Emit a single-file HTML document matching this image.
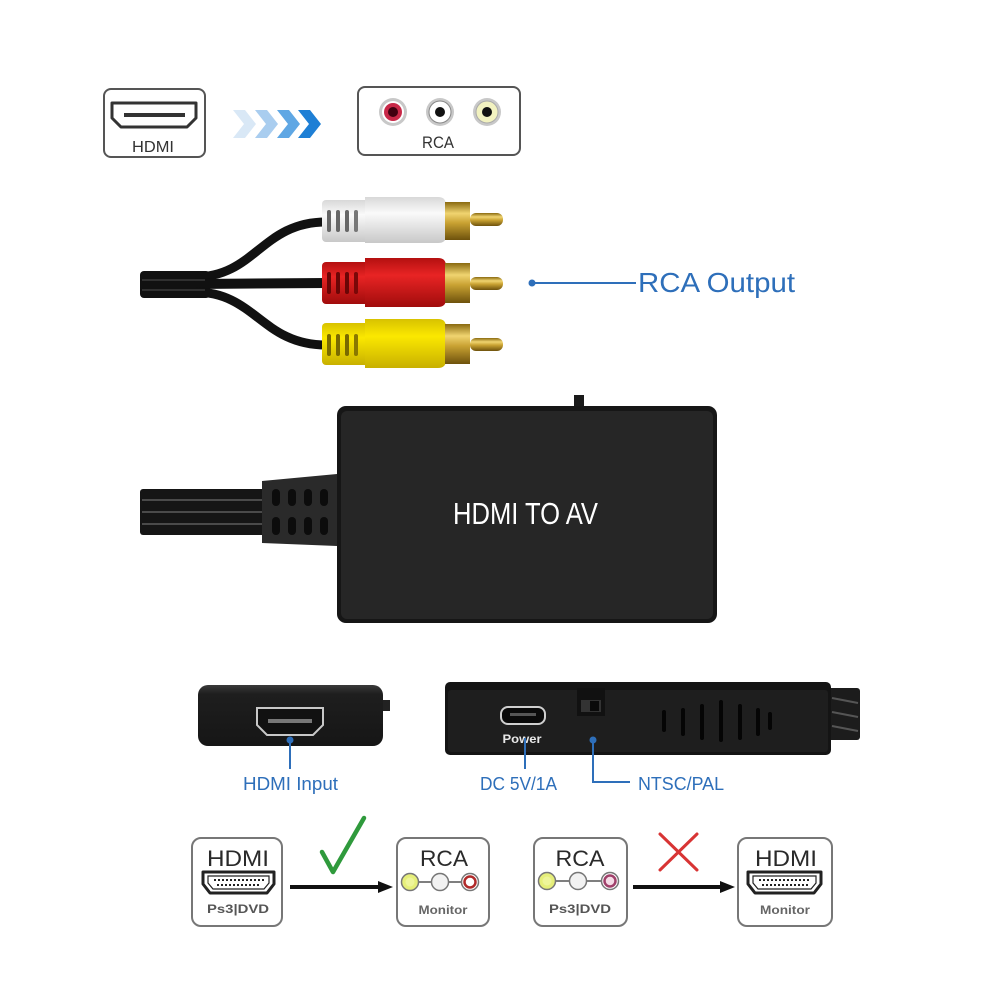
<!DOCTYPE html>
<html><head><meta charset="utf-8">
<style>
html,body{margin:0;padding:0;background:#fff;}
svg{display:block;}
text{font-family:"Liberation Sans",Arial,sans-serif;}
</style></head>
<body>
<svg width="1000" height="1000" viewBox="0 0 1000 1000" xmlns="http://www.w3.org/2000/svg">
<defs>
  <linearGradient id="gold" x1="0" y1="0" x2="0" y2="1">
    <stop offset="0" stop-color="#8a6a10"/>
    <stop offset="0.3" stop-color="#f0d470"/>
    <stop offset="0.55" stop-color="#c9a232"/>
    <stop offset="1" stop-color="#6e520c"/>
  </linearGradient>
  <linearGradient id="whiteP" x1="0" y1="0" x2="0" y2="1">
    <stop offset="0" stop-color="#d8d8d8"/>
    <stop offset="0.35" stop-color="#fafafa"/>
    <stop offset="1" stop-color="#c8c8c8"/>
  </linearGradient>
  <linearGradient id="redP" x1="0" y1="0" x2="0" y2="1">
    <stop offset="0" stop-color="#b41010"/>
    <stop offset="0.35" stop-color="#e82424"/>
    <stop offset="1" stop-color="#a00c0c"/>
  </linearGradient>
  <linearGradient id="yelP" x1="0" y1="0" x2="0" y2="1">
    <stop offset="0" stop-color="#d8c200"/>
    <stop offset="0.35" stop-color="#fbe800"/>
    <stop offset="1" stop-color="#c8b000"/>
  </linearGradient>
  <linearGradient id="devTop" x1="0" y1="0" x2="0" y2="1">
    <stop offset="0" stop-color="#3a3a3a"/>
    <stop offset="0.15" stop-color="#1e1e1e"/>
    <stop offset="1" stop-color="#161616"/>
  </linearGradient>
</defs>

<!-- ===== Top: HDMI box ===== -->
<rect x="104" y="89" width="101" height="68" rx="7" fill="#fff" stroke="#555" stroke-width="2"/>
<path d="M112 103 H196 V118 L187 127 H121 L112 118 Z" fill="#fff" stroke="#333" stroke-width="3" stroke-linejoin="round"/>
<rect x="124" y="113" width="61" height="4" fill="#333"/>
<text x="153" y="152" font-size="16" fill="#333" text-anchor="middle" textLength="42" lengthAdjust="spacingAndGlyphs">HDMI</text>

<!-- chevrons -->
<path d="M233 110 L245 110 L256 124 L245 138 L233 138 L244 124 Z" fill="#d9e8f6"/>
<path d="M255 110 L267 110 L278 124 L267 138 L255 138 L266 124 Z" fill="#a9cdef"/>
<path d="M277 110 L289 110 L300 124 L289 138 L277 138 L288 124 Z" fill="#5fa7e4"/>
<path d="M298 110 L310 110 L321 124 L310 138 L298 138 L309 124 Z" fill="#1e7fd5"/>

<!-- RCA box -->
<rect x="358" y="87" width="162" height="68" rx="7" fill="#fff" stroke="#555" stroke-width="2"/>
<circle cx="393" cy="112" r="14" fill="#c8c8c8"/>
<circle cx="393" cy="112" r="11" fill="#fff"/>
<circle cx="393" cy="112" r="9" fill="#c82848"/>
<circle cx="393" cy="112" r="5" fill="#400010"/>
<circle cx="440" cy="112" r="14" fill="#c8c8c8"/>
<circle cx="440" cy="112" r="11" fill="#fff" stroke="#888" stroke-width="1"/>
<circle cx="440" cy="112" r="5" fill="#111"/>
<circle cx="487" cy="112" r="14" fill="#c8c8c8"/>
<circle cx="487" cy="112" r="11" fill="#f2f2c0" stroke="#aaa" stroke-width="1"/>
<circle cx="487" cy="112" r="5" fill="#111"/>
<text x="438" y="148" font-size="17" fill="#333" text-anchor="middle" textLength="32" lengthAdjust="spacingAndGlyphs">RCA</text>

<!-- ===== RCA cables ===== -->
<rect x="140" y="271" width="70" height="27" rx="4" fill="#111"/>
<path d="M195 277 C 255 277, 262 222, 326 222" stroke="#111" stroke-width="9" fill="none"/>
<path d="M195 284 L326 283" stroke="#111" stroke-width="10" fill="none"/>
<path d="M195 292 C 255 292, 262 345, 326 345" stroke="#111" stroke-width="9" fill="none"/>
<line x1="142" y1="280" x2="205" y2="280" stroke="#3a3a3a" stroke-width="1.5"/>
<line x1="142" y1="290" x2="205" y2="290" stroke="#3a3a3a" stroke-width="1.5"/>

<!-- white plug -->
<g>
  <rect x="322" y="200" width="50" height="42" rx="4" fill="url(#whiteP)"/>
  <path d="M365 197 H438 Q446 197 446 205 V236 Q446 243 438 243 H365 Z" fill="url(#whiteP)"/>
  <rect x="327" y="210" width="4" height="22" rx="2" fill="#666"/>
  <rect x="336" y="210" width="4" height="22" rx="2" fill="#666"/>
  <rect x="345" y="210" width="4" height="22" rx="2" fill="#666"/>
  <rect x="354" y="210" width="4" height="22" rx="2" fill="#777"/>
  <rect x="445" y="202" width="25" height="38" fill="url(#gold)"/>
  <rect x="470" y="213" width="33" height="13" rx="6" fill="url(#gold)"/>
</g>
<!-- red plug -->
<g>
  <rect x="322" y="262" width="50" height="42" rx="4" fill="url(#redP)"/>
  <path d="M365 258 H438 Q446 258 446 266 V299 Q446 307 438 307 H365 Z" fill="url(#redP)"/>
  <rect x="327" y="272" width="4" height="22" rx="2" fill="#6a0606"/>
  <rect x="336" y="272" width="4" height="22" rx="2" fill="#6a0606"/>
  <rect x="345" y="272" width="4" height="22" rx="2" fill="#6a0606"/>
  <rect x="354" y="272" width="4" height="22" rx="2" fill="#7a0808"/>
  <rect x="445" y="263" width="25" height="40" fill="url(#gold)"/>
  <rect x="470" y="277" width="33" height="13" rx="6" fill="url(#gold)"/>
</g>
<!-- yellow plug -->
<g>
  <rect x="322" y="323" width="50" height="42" rx="4" fill="url(#yelP)"/>
  <path d="M365 319 H438 Q446 319 446 327 V360 Q446 368 438 368 H365 Z" fill="url(#yelP)"/>
  <rect x="327" y="334" width="4" height="22" rx="2" fill="#7a6a00"/>
  <rect x="336" y="334" width="4" height="22" rx="2" fill="#7a6a00"/>
  <rect x="345" y="334" width="4" height="22" rx="2" fill="#7a6a00"/>
  <rect x="354" y="334" width="4" height="22" rx="2" fill="#8a7800"/>
  <rect x="445" y="324" width="25" height="40" fill="url(#gold)"/>
  <rect x="470" y="338" width="33" height="13" rx="6" fill="url(#gold)"/>
</g>

<!-- RCA Output label -->
<line x1="532" y1="283" x2="636" y2="283" stroke="#2e6fba" stroke-width="2"/>
<circle cx="532" cy="283" r="3.5" fill="#2e6fba"/>
<text x="638" y="292" font-size="28" fill="#2e6fba" textLength="157" lengthAdjust="spacingAndGlyphs">RCA Output</text>

<!-- ===== Converter ===== -->
<rect x="140" y="489" width="125" height="46" rx="3" fill="#151515"/>
<line x1="142" y1="500" x2="263" y2="500" stroke="#4a4a4a" stroke-width="2"/>
<line x1="142" y1="512" x2="263" y2="512" stroke="#4a4a4a" stroke-width="2"/>
<line x1="142" y1="524" x2="263" y2="524" stroke="#4a4a4a" stroke-width="2"/>
<path d="M262 481 L337 474 L337 546 L262 543 Z" fill="#2a2a2a"/>
<g fill="#0c0c0c">
  <rect x="272" y="489" width="8" height="17" rx="4"/>
  <rect x="288" y="489" width="8" height="17" rx="4"/>
  <rect x="304" y="489" width="8" height="17" rx="4"/>
  <rect x="320" y="489" width="8" height="17" rx="4"/>
  <rect x="272" y="517" width="8" height="18" rx="4"/>
  <rect x="288" y="517" width="8" height="18" rx="4"/>
  <rect x="304" y="517" width="8" height="18" rx="4"/>
  <rect x="320" y="517" width="8" height="18" rx="4"/>
</g>
<rect x="574" y="395" width="10" height="14" fill="#1a1a1a"/>
<rect x="337" y="406" width="380" height="217" rx="9" fill="#161616"/>
<rect x="341" y="411" width="372" height="208" rx="6" fill="#262626"/>
<text x="453" y="524" font-size="31" fill="#fff" textLength="145" lengthAdjust="spacingAndGlyphs">HDMI TO AV</text>

<!-- ===== Bottom devices ===== -->
<!-- left device -->
<rect x="382" y="700" width="8" height="11" fill="#222"/>
<rect x="198" y="685" width="185" height="61" rx="10" fill="url(#devTop)"/>
<path d="M257 708 H323 V725 L313 735 H267 L257 725 Z" fill="#111" stroke="#c8c8c8" stroke-width="2"/>
<rect x="268" y="719" width="44" height="4" fill="#777"/>
<line x1="290" y1="740" x2="290" y2="769" stroke="#2e6fba" stroke-width="2"/>
<circle cx="290" cy="740" r="3.5" fill="#2e6fba"/>
<text x="243" y="790" font-size="18" fill="#2e6fba" textLength="95" lengthAdjust="spacingAndGlyphs">HDMI Input</text>

<!-- right device -->
<rect x="828" y="688" width="32" height="52" rx="3" fill="#1c1c1c"/>
<g stroke="#555" stroke-width="2">
  <line x1="832" y1="698" x2="858" y2="703"/>
  <line x1="832" y1="712" x2="858" y2="717"/>
  <line x1="832" y1="726" x2="858" y2="731"/>
</g>
<rect x="445" y="682" width="386" height="73" rx="5" fill="#141414"/>
<rect x="448" y="690" width="380" height="62" rx="3" fill="#1e1e1e"/>
<rect x="577" y="688" width="28" height="28" fill="#111"/>
<rect x="581" y="700" width="20" height="12" fill="#333"/>
<rect x="590" y="701" width="9" height="10" fill="#0a0a0a"/>
<rect x="501" y="707" width="44" height="17" rx="7" fill="#0a0a0a" stroke="#cfcfcf" stroke-width="2"/>
<rect x="510" y="713" width="26" height="3" fill="#555"/>
<text x="522" y="743" font-size="12" font-weight="bold" fill="#e8e8e8" text-anchor="middle" textLength="39" lengthAdjust="spacingAndGlyphs">Power</text>
<g stroke="#050505" stroke-width="4" stroke-linecap="round">
  <line x1="664" y1="712" x2="664" y2="730"/>
  <line x1="683" y1="710" x2="683" y2="734"/>
  <line x1="702" y1="706" x2="702" y2="738"/>
  <line x1="721" y1="702" x2="721" y2="740"/>
  <line x1="740" y1="706" x2="740" y2="738"/>
  <line x1="758" y1="710" x2="758" y2="734"/>
  <line x1="770" y1="714" x2="770" y2="728"/>
</g>
<line x1="525" y1="738" x2="525" y2="769" stroke="#2e6fba" stroke-width="2"/>
<text x="480" y="790" font-size="18" fill="#2e6fba" textLength="77" lengthAdjust="spacingAndGlyphs">DC 5V/1A</text>
<path d="M593 740 V782 H630" stroke="#2e6fba" stroke-width="2" fill="none"/>
<circle cx="593" cy="740" r="3.5" fill="#2e6fba"/>
<text x="638" y="790" font-size="18" fill="#2e6fba" textLength="86" lengthAdjust="spacingAndGlyphs">NTSC/PAL</text>

<!-- ===== Bottom diagram ===== -->
<!-- Box 1: HDMI Ps3|DVD -->
<rect x="192" y="838" width="90" height="88" rx="9" fill="#fff" stroke="#777" stroke-width="2"/>
<text x="238" y="866" font-size="22" fill="#2a2a2a" text-anchor="middle" textLength="62" lengthAdjust="spacingAndGlyphs">HDMI</text>
<path d="M203 872 H274 V884 L267 893 H210 L203 884 Z" fill="#fff" stroke="#222" stroke-width="3" stroke-linejoin="round"/>
<path d="M208 876 H269 V883 L264 889 H213 L208 883 Z" fill="none" stroke="#222" stroke-width="1.2"/>
<line x1="214" y1="880" x2="264" y2="880" stroke="#222" stroke-width="2" stroke-dasharray="2 2"/>
<line x1="217" y1="885" x2="261" y2="885" stroke="#222" stroke-width="2" stroke-dasharray="2 2"/>
<text x="238" y="913" font-size="12" font-weight="bold" fill="#555" text-anchor="middle" textLength="62" lengthAdjust="spacingAndGlyphs">Ps3|DVD</text>

<!-- check -->
<path d="M322 852 L333 872 L364 818" stroke="#2f9a3c" stroke-width="4.5" fill="none" stroke-linecap="round" stroke-linejoin="round"/>
<!-- arrow 1 -->
<line x1="290" y1="887" x2="380" y2="887" stroke="#111" stroke-width="4"/>
<path d="M378 881 L393 887 L378 893 Z" fill="#111"/>

<!-- Box 2: RCA Monitor -->
<rect x="397" y="838" width="92" height="88" rx="9" fill="#fff" stroke="#777" stroke-width="2"/>
<text x="444" y="866" font-size="22" fill="#2a2a2a" text-anchor="middle" textLength="48" lengthAdjust="spacingAndGlyphs">RCA</text>
<line x1="410" y1="882" x2="470" y2="882" stroke="#555" stroke-width="1.5"/>
<circle cx="410" cy="882" r="8.5" fill="#e6ef7a" stroke="#777" stroke-width="1.5"/>
<circle cx="410" cy="882" r="4.5" fill="#eef59a"/>
<circle cx="440" cy="882" r="8.5" fill="#f2f2f2" stroke="#777" stroke-width="1.5"/>
<circle cx="470" cy="882" r="8.5" fill="#fff" stroke="#777" stroke-width="1.5"/>
<circle cx="470" cy="882" r="5.5" fill="#fff" stroke="#b02a2a" stroke-width="2.5"/>
<text x="443" y="914" font-size="12" font-weight="bold" fill="#666" text-anchor="middle" textLength="49" lengthAdjust="spacingAndGlyphs">Monitor</text>

<!-- Box 3: RCA Ps3|DVD -->
<rect x="534" y="838" width="93" height="88" rx="9" fill="#fff" stroke="#777" stroke-width="2"/>
<text x="580" y="866" font-size="22" fill="#2a2a2a" text-anchor="middle" textLength="49" lengthAdjust="spacingAndGlyphs">RCA</text>
<line x1="547" y1="881" x2="610" y2="881" stroke="#555" stroke-width="1.5"/>
<circle cx="547" cy="881" r="8.5" fill="#e6ef7a" stroke="#777" stroke-width="1.5"/>
<circle cx="547" cy="881" r="4.5" fill="#eef59a"/>
<circle cx="578" cy="881" r="8.5" fill="#f2f2f2" stroke="#777" stroke-width="1.5"/>
<circle cx="610" cy="881" r="8.5" fill="#fff" stroke="#777" stroke-width="1.5"/>
<circle cx="610" cy="881" r="5.5" fill="#f5dbe6" stroke="#a0406a" stroke-width="2.5"/>
<text x="580" y="913" font-size="12" font-weight="bold" fill="#555" text-anchor="middle" textLength="62" lengthAdjust="spacingAndGlyphs">Ps3|DVD</text>

<!-- X -->
<path d="M660 834 L697 870 M697 834 L660 870" stroke="#d83434" stroke-width="3" stroke-linecap="round"/>
<!-- arrow 2 -->
<line x1="633" y1="887" x2="722" y2="887" stroke="#111" stroke-width="4"/>
<path d="M720 881 L735 887 L720 893 Z" fill="#111"/>

<!-- Box 4: HDMI Monitor -->
<rect x="738" y="838" width="94" height="88" rx="9" fill="#fff" stroke="#777" stroke-width="2"/>
<text x="786" y="866" font-size="22" fill="#2a2a2a" text-anchor="middle" textLength="62" lengthAdjust="spacingAndGlyphs">HDMI</text>
<path d="M748 872 H821 V884 L814 893 H755 L748 884 Z" fill="#fff" stroke="#222" stroke-width="3" stroke-linejoin="round"/>
<path d="M753 876 H816 V883 L811 889 H758 L753 883 Z" fill="none" stroke="#222" stroke-width="1.2"/>
<line x1="759" y1="880" x2="811" y2="880" stroke="#222" stroke-width="2" stroke-dasharray="2 2"/>
<line x1="762" y1="885" x2="808" y2="885" stroke="#222" stroke-width="2" stroke-dasharray="2 2"/>
<text x="785" y="914" font-size="12" font-weight="bold" fill="#666" text-anchor="middle" textLength="50" lengthAdjust="spacingAndGlyphs">Monitor</text>
</svg>
</body></html>
